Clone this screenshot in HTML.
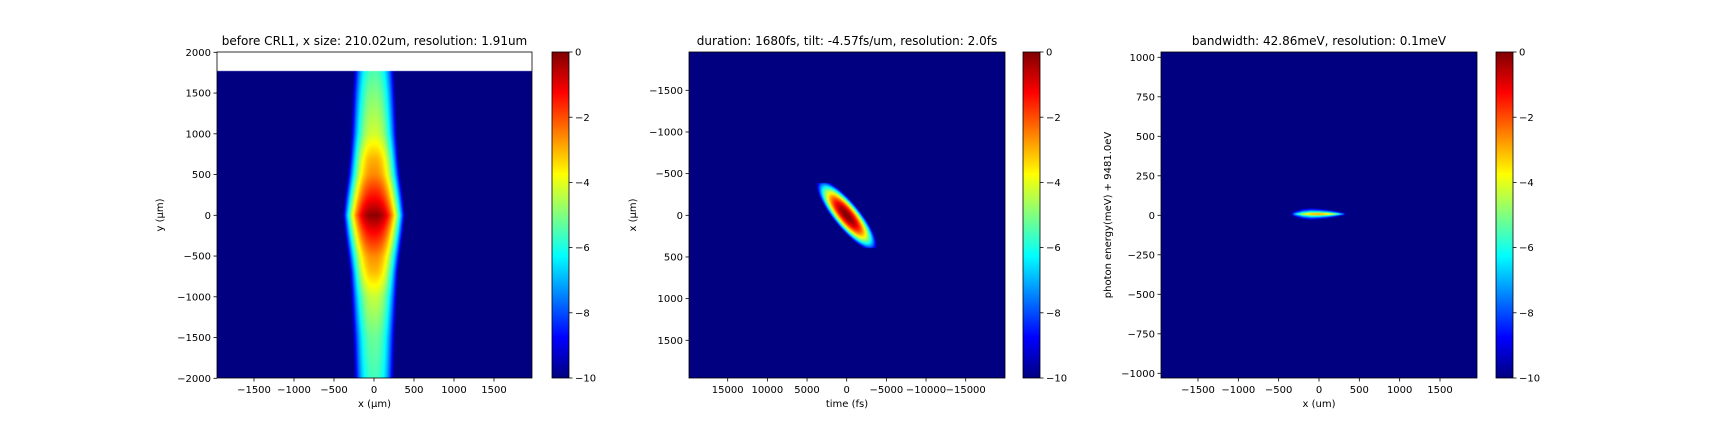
<!DOCTYPE html>
<html><head><meta charset="utf-8">
<style>
html,body{margin:0;padding:0;background:#fff;}
#wrap{position:relative;width:1728px;height:432px;overflow:hidden;}
canvas{position:absolute;}
svg{position:absolute;left:0;top:0;}
text{font-family:"DejaVu Sans","Liberation Sans",sans-serif;fill:#000;}
</style></head>
<body>
<div id="wrap">
<canvas id="c1"></canvas>
<canvas id="c2"></canvas>
<canvas id="c3"></canvas>
<svg id="svg" width="1728" height="432"></svg>
</div>
<script>
// ---- data arrays ----
// Panel 1: centre log-intensity and half-width profile along y
const p1Y = [-2000,-1500,-1000,-700,-500,-200,0,200,500,700,1000,1500,1770];
const p1Peak = [-5.6,-5.2,-4.3,-3.1,-2.6,-1.2,-0.1,-1.2,-2.6,-3.0,-4.2,-5.0,-5.5];
const p1Half = [250,265,290,305,330,370,390,370,330,310,290,270,255];
const p1DataTop = [1770];
// Panel 2: tilted pulse
const p2Tilt = [-7.5];
const p2TimeHalf = [2100];
const p2SpaceHalf = [430];
const p2SpaceCut = [390];
// Panel 3: spectral profile along x
const p3X = [-360,-300,-200,-100,0,100,200,300,350];
const p3Half = [1,22,36,40,36,30,22,10,1];
const p3Peak = [-10,-6,-3,-1.5,-1,-1.5,-3,-6,-10];
const p3Center = [8];
// tick labels
const p1XTicks = [-1500,-1000,-500,0,500,1000,1500];
const p1YTicks = [-2000,-1500,-1000,-500,0,500,1000,1500,2000];
const p2XTicks = [15000,10000,5000,0,-5000,-10000,-15000];
const p2YTicks = [-1500,-1000,-500,0,500,1000,1500];
const p3XTicks = [-1500,-1000,-500,0,500,1000,1500];
const p3YTicks = [-1000,-750,-500,-250,0,250,500,750,1000];
const cbTicks = [0,-2,-4,-6,-8,-10];

const NS="http://www.w3.org/2000/svg";
const svg=document.getElementById('svg');
function el(tag,attrs,parent){const e=document.createElementNS(NS,tag);for(const k in attrs)e.setAttribute(k,attrs[k]);(parent||svg).appendChild(e);return e;}
function lin(d0,d1,r0,r1){const f=v=>r0+(v-d0)*(r1-r0)/(d1-d0);f.inv=p=>d0+(p-r0)*(d1-d0)/(r1-r0);return f;}
function interp(xs,ys,x){if(x<=xs[0])return ys[0];for(let i=1;i<xs.length;i++){if(x<=xs[i]){const t=(x-xs[i-1])/(xs[i]-xs[i-1]);return ys[i-1]+t*(ys[i]-ys[i-1]);}}return ys[ys.length-1];}
function cl(v){return Math.max(0,Math.min(1,v));}
function jet(v){const t=cl((v+10)/10);return [cl(1.5-Math.abs(4*t-3)),cl(1.5-Math.abs(4*t-2)),cl(1.5-Math.abs(4*t-1))].map(c=>Math.round(c*255));}
function fmt(v){return v<0?'\u2212'+Math.abs(v):String(v);}

function drawHeat(id,L,T,W,H,sx,sy,fn){
  const c=document.getElementById(id);c.width=W;c.height=H;c.style.left=L+'px';c.style.top=T+'px';
  const ctx=c.getContext('2d');const img=ctx.createImageData(W,H);
  for(let py=0;py<H;py++){const yv=sy.inv(T+py+0.5);for(let px=0;px<W;px++){const xv=sx.inv(L+px+0.5);const v=fn(xv,yv);const i=(py*W+px)*4;
    if(v===null){img.data[i]=255;img.data[i+1]=255;img.data[i+2]=255;img.data[i+3]=255;continue;}
    const col=jet(v);img.data[i]=col[0];img.data[i+1]=col[1];img.data[i+2]=col[2];img.data[i+3]=255;}}
  ctx.putImageData(img,0,0);
}

function axes(name,L,T,W,H,sx,sy,xt,yt,title,xl,yl,ylx,cbx){
  const g=el('g',{});
  el('rect',{x:L,y:T,width:W,height:H,fill:'none',stroke:'#000','stroke-width':0.8},g);
  xt.forEach(v=>{const x=sx(v);el('line',{x1:x,x2:x,y1:T+H,y2:T+H+3.5,stroke:'#000','stroke-width':0.8},g);
    const t=el('text',{x:x,y:T+H+15,'font-size':10,'text-anchor':'middle'},g);t.textContent=fmt(v);
    });
  yt.forEach(v=>{const y=sy(v);el('line',{x1:L-3.5,x2:L,y1:y,y2:y,stroke:'#000','stroke-width':0.8},g);
    const t=el('text',{x:L-6,y:y+3.6,'font-size':10,'text-anchor':'end'},g);t.textContent=fmt(v);
    });
  const tt=el('text',{x:L+W/2,y:T-7,'font-size':12,'text-anchor':'middle'},g);tt.textContent=title;
  
  const xa=el('text',{x:L+W/2,y:T+H+29,'font-size':10,'text-anchor':'middle'},g);xa.textContent=xl;
  
  const ya=el('text',{x:ylx,y:T+H/2,'font-size':10,'text-anchor':'middle',transform:`rotate(-90 ${ylx} ${T+H/2})`},g);ya.textContent=yl;
  
  const cg=el('g',{},g);
  const cw=17;
  el('rect',{x:cbx,y:T,width:cw,height:H,fill:'url(#jetgrad)',stroke:'#000','stroke-width':0.8},cg);
  const cs=lin(-10,0,T+H,T);
  cbTicks.forEach(v=>{const y=cs(v);el('line',{x1:cbx+cw,x2:cbx+cw+3.5,y1:y,y2:y,stroke:'#000','stroke-width':0.8},cg);
    const t=el('text',{x:cbx+cw+6,y:y+3.6,'font-size':10},cg);t.textContent=fmt(v);
    });
}

const defs=el('defs',{});const grad=el('linearGradient',{id:'jetgrad',x1:0,y1:1,x2:0,y2:0},defs);
for(let i=0;i<=40;i++){const v=-10+i/4;const c=jet(v);el('stop',{offset:i/40,'stop-color':`rgb(${c[0]},${c[1]},${c[2]})`},grad);}

// Panel 1
{const L=217,T=52,W=315,H=326;
 const sx=lin(0,1000,374,454), sy=lin(0,2000,215.3,52.3);
 drawHeat('c1',L,T,W,H,sx,sy,(x,y)=>{if(y>p1DataTop[0])return null;const c=interp(p1Y,p1Peak,y),w=interp(p1Y,p1Half,y);const r=Math.abs(x/w);return Math.max(-10,c-(c+10)*Math.pow(r,2.5));});
 axes('panel-beam-profile',L,T,W,H,sx,sy,p1XTicks,p1YTicks,'before CRL1, x size: 210.02um, resolution: 1.91um','x (\u03bcm)','y (\u03bcm)',163,552);}
// Panel 2
{const L=689,T=52,W=316,H=326;
 const sx=lin(0,-15000,846.7,965.7), sy=lin(0,1500,215.3,340.3);
 drawHeat('c2',L,T,W,H,sx,sy,(t,x)=>{if(Math.abs(x)>p2SpaceCut[0])return -10;const tp=t-p2Tilt[0]*x;const a=tp/p2TimeHalf[0],b=x/p2SpaceHalf[0];return Math.max(-10,-10*(a*a+b*b));});
 axes('panel-time-space',L,T,W,H,sx,sy,p2XTicks,p2YTicks,'duration: 1680fs, tilt: -4.57fs/um, resolution: 2.0fs','time (fs)','x (\u03bcm)',636,1023);}
// Panel 3
{const L=1161,T=52,W=316,H=326;
 const sx=lin(0,1500,1319,1440), sy=lin(0,1000,215.3,57.3);
 drawHeat('c3',L,T,W,H,sx,sy,(x,e)=>{const c=interp(p3X,p3Peak,x),h=interp(p3X,p3Half,x);const r=Math.abs((e-p3Center[0])/h);return Math.max(-10,c-(c+10)*Math.pow(r,0.6));});
 axes('panel-energy-space',L,T,W,H,sx,sy,p3XTicks,p3YTicks,'bandwidth: 42.86meV, resolution: 0.1meV','x (um)','photon energy(meV) + 9481.0eV',1111,1496);}
</script>
</body></html>
